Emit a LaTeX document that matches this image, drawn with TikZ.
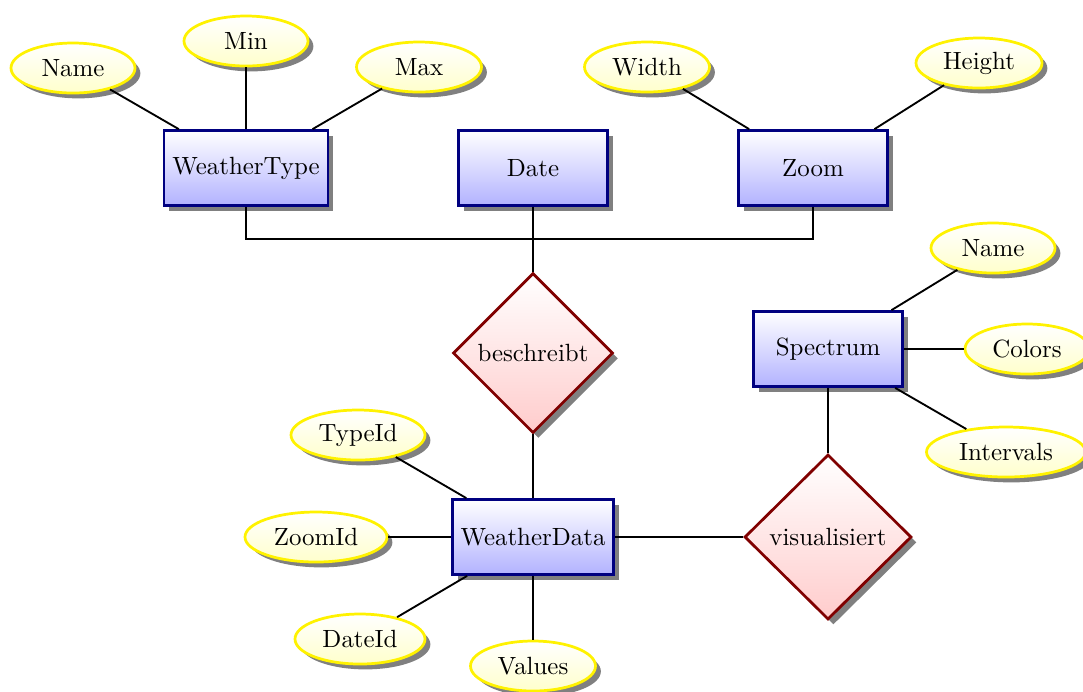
\documentclass[tikz,border=0pt]{standalone}
\usetikzlibrary{shapes.geometric,shadows}
\def\u{0.4016pt}
\begin{document}
\begin{tikzpicture}[x=0.4016pt,y=-0.4016pt,
  shade/.style={drop shadow={opacity=1,fill=black!50}},
  entity/.style={rectangle,draw=blue!50!black,line width=1.1pt,top color=white,bottom color=blue!30,
    shade,minimum width=149*\u,minimum height=75*\u},
  attr/.style={ellipse,draw=yellow,line width=1.1pt,top color=white,bottom color=yellow!20,
    shade,inner sep=0pt,minimum height=50*\u,minimum width=124*\u},
  rel/.style={diamond,draw=red!50!black,line width=1.1pt,top color=white,bottom color=red!20,
    shade,inner sep=0pt,aspect=1},
  link/.style={line width=0.75pt}]
\useasboundingbox (0,0) rectangle (1083,691);

% entities
\node[entity] (wt) at (246,168) {WeatherType};
\node[entity] (date) at (533,168) {Date};
\node[entity] (zoom) at (813,168) {Zoom};
\node[entity] (spec) at (828,349) {Spectrum};
\node[entity] (wd) at (533,537) {WeatherData};

% relationships
\node[rel,minimum width=160*\u,minimum height=160*\u] (besch) at (533,353) {beschreibt};
\node[rel,minimum width=167*\u,minimum height=165*\u] (vis) at (828,537) {visualisiert};

% attributes
\node[attr] (wtname) at (73,68) {Name};
\node[attr] (wtmin) at (246,41) {Min};
\node[attr,minimum width=125*\u] (wtmax) at (419,67) {Max};
\node[attr,minimum width=125*\u] (zwidth) at (647,67) {Width};
\node[attr,minimum width=126*\u] (zheight) at (979,63) {Height};
\node[attr] (sname) at (993,248) {Name};
\node[attr] (scolors) at (1027,349) {Colors};
\node[attr,minimum width=159*\u] (sint) at (1006,452) {Intervals};
\node[attr,minimum width=134*\u] (typeid) at (358,435) {TypeId};
\node[attr,minimum width=142*\u] (zoomid) at (316,537) {ZoomId};
\node[attr,minimum width=130*\u] (dateid) at (360,639) {DateId};
\node[attr,minimum width=125*\u] (values) at (533,666) {Values};

% connectors
\coordinate (junc) at (533,239);
\begin{scope}[link]
\draw (wt.south) |- (junc) -| (zoom.south);
\draw (date.south) -- (besch.north);
\draw (besch.south) -- (wd.north);
\draw (wd.east) -- (vis.west);
\draw (spec.south) -- (vis.north);

\draw (wtname) -- (wt);
\draw (wtmin) -- (wt);
\draw (wtmax) -- (wt);
\draw (zwidth) -- (zoom);
\draw (zheight) -- (zoom);
\draw (sname) -- (spec);
\draw (scolors) -- (spec);
\draw (sint) -- (spec);
\draw (typeid) -- (wd);
\draw (zoomid) -- (wd);
\draw (dateid) -- (wd);
\draw (values) -- (wd);
\end{scope}
\end{tikzpicture}
\end{document}
